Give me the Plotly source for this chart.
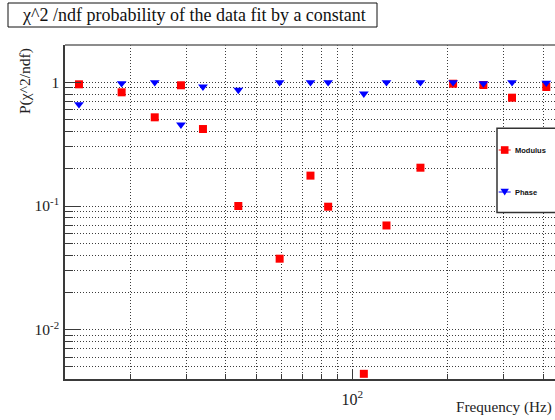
import plotly.graph_objects as go

# frequency of each fit (Hz) and the chi2/ndf probability for the two fits
freq = [13.8, 18.8, 23.9, 28.9, 33.9, 43.8, 59.1, 73.9, 84.0,
        108.8, 128.2, 164.0, 207.8, 258.8, 318.5, 408.3]
modulus = [0.963, 0.830, 0.521, 0.946, 0.419, 0.100, 0.0375, 0.176, 0.0987,
           0.0044, 0.0696, 0.204, 0.974, 0.951, 0.751, 0.916]
phase = [0.664, 0.981, 1.0, 0.454, 0.921, 0.867, 1.0, 1.0, 1.0,
         0.809, 1.0, 1.0, 1.0, 0.98, 1.0, 0.99]

# ticks
y_major = [0.01, 0.1, 1]
y_major_text = ["10<sup>-2</sup>", "10<sup>-1</sup>", "1"]
y_minor = [0.004, 0.005, 0.006, 0.007, 0.008, 0.009,
           0.02, 0.03, 0.04, 0.05, 0.06, 0.07, 0.08, 0.09,
           0.2, 0.3, 0.4, 0.5, 0.6, 0.7, 0.8, 0.9, 2]
x_major = [100]
x_major_text = ["10<sup>2</sup>"]
x_minor = [20, 30, 40, 50, 60, 70, 80, 90, 200, 300, 400]

SERIF = "Liberation Serif"
AX = "#3a3a3a"
GRID = dict(gridcolor="#3c3c3c", gridwidth=1, griddash="1px,2px")

W, H = 555, 420
L, R, T, B = 65, 0, 45, 41
PW, PH = W - L - R, H - T - B


def px(x):  # pixel -> paper x
    return (x - L) / PW


def py(y):  # pixel -> paper y
    return (H - B - y) / PH


fig = go.Figure()
fig.add_trace(go.Scatter(x=freq, y=modulus, mode="markers", name="Modulus",
                         marker=dict(symbol="square", size=8, color="#ff0000"),
                         showlegend=False))
fig.add_trace(go.Scatter(x=freq, y=phase, mode="markers", name="Phase",
                         marker=dict(symbol="triangle-down", size=8.5, color="#0000ff"),
                         showlegend=False))

fig.update_xaxes(
    type="log", range=[1.0959, 2.6384],
    tickmode="array", tickvals=x_major, ticktext=x_major_text,
    ticks="inside", ticklen=10, tickwidth=1.3, tickcolor=AX,
    showline=True, linecolor=AX, linewidth=1.5,
    showgrid=True, **GRID, zeroline=False, ticklabelstandoff=5,
    tickfont=dict(family=SERIF, size=16, color="#222"),
    minor=dict(tickmode="array", tickvals=x_minor, ticks="inside", ticklen=5,
               tickcolor=AX, showgrid=True, **GRID),
)
fig.update_yaxes(
    type="log", range=[-2.3985, 0.3015],
    tickmode="array", tickvals=y_major, ticktext=y_major_text,
    ticks="inside", ticklen=16, tickwidth=1.3, tickcolor=AX,
    showline=True, linecolor=AX, linewidth=1.5,
    showgrid=True, **GRID, zeroline=False, ticklabelstandoff=1,
    tickfont=dict(family=SERIF, size=15.5, color="#222"),
    minor=dict(tickmode="array", tickvals=y_minor, ticks="inside", ticklen=8,
               tickcolor=AX, showgrid=True, **GRID),
)

shapes = [
    # top frame line
    dict(type="line", xref="paper", yref="paper", x0=0, x1=1.05, y0=1, y1=1,
         line=dict(color="#666", width=1.3)),
    # title box
    dict(type="rect", xref="paper", yref="paper", x0=px(8), x1=px(377),
         y0=py(27), y1=py(3), line=dict(color="#111", width=1), fillcolor="white"),
    # legend box
    dict(type="rect", xref="paper", yref="paper", x0=px(497), x1=px(600),
         y0=py(212.5), y1=py(128.3), line=dict(color="#333", width=1.5),
         fillcolor="white", layer="above"),
]
# legend swatches
for yy, col, kind in [(150, "#ff0000", "sq"), (192, "#0000ff", "tri")]:
    shapes.append(dict(type="line", xref="paper", yref="paper", xsizemode="pixel",
                       ysizemode="pixel", xanchor=px(504.7), yanchor=py(yy),
                       x0=-6, x1=6, y0=0, y1=0, line=dict(color=col, width=1),
                       layer="above"))
    if kind == "sq":
        shapes.append(dict(type="rect", xref="paper", yref="paper", xsizemode="pixel",
                           ysizemode="pixel", xanchor=px(504.7), yanchor=py(yy),
                           x0=-3.8, x1=3.8, y0=-3.8, y1=3.8, fillcolor=col,
                           line=dict(width=0), layer="above"))
    else:
        shapes.append(dict(type="path", xref="paper", yref="paper", xsizemode="pixel",
                           ysizemode="pixel", xanchor=px(504.7), yanchor=py(yy),
                           path="M-4.2,3.3 L4.2,3.3 L0,-3.6 Z", fillcolor=col,
                           line=dict(width=0), layer="above"))

annotations = [
    dict(text="χ^2 /ndf probability of the data fit by a constant", xref="paper",
         yref="paper", x=px(194), y=py(15), xanchor="center", yanchor="middle",
         showarrow=False, font=dict(family=SERIF, size=18, color="#111")),
    dict(text="P(χ^2/ndf)", textangle=-90, xref="paper", yref="paper",
         x=px(25), y=py(46), xanchor="center", yanchor="top", showarrow=False,
         font=dict(family=SERIF, size=15.5, color="#222")),
    dict(text="Frequency (Hz)", xref="paper", yref="paper", x=px(554), y=py(407),
         xanchor="right", yanchor="middle", showarrow=False,
         font=dict(family=SERIF, size=15.2, color="#222")),
    dict(text="<b>Modulus</b>", xref="paper", yref="paper", x=px(512.5), y=py(150),
         xanchor="left", yanchor="middle", showarrow=False,
         font=dict(family="Liberation Sans", size=7.5, color="#111")),
    dict(text="<b>Phase</b>", xref="paper", yref="paper", x=px(512.5), y=py(192),
         xanchor="left", yanchor="middle", showarrow=False,
         font=dict(family="Liberation Sans", size=7.5, color="#111")),
]

fig.update_layout(
    width=W, height=H,
    margin=dict(l=L, r=R, t=T, b=B, pad=0, autoexpand=False),
    paper_bgcolor="white", plot_bgcolor="white",
    shapes=shapes, annotations=annotations, showlegend=False,
)

# drop the browser's default 8px body margin so the figure sits at the page corner
fig.write_html("out.html", config={"displayModeBar": False},
               post_script="document.body.style.margin='0px';")
